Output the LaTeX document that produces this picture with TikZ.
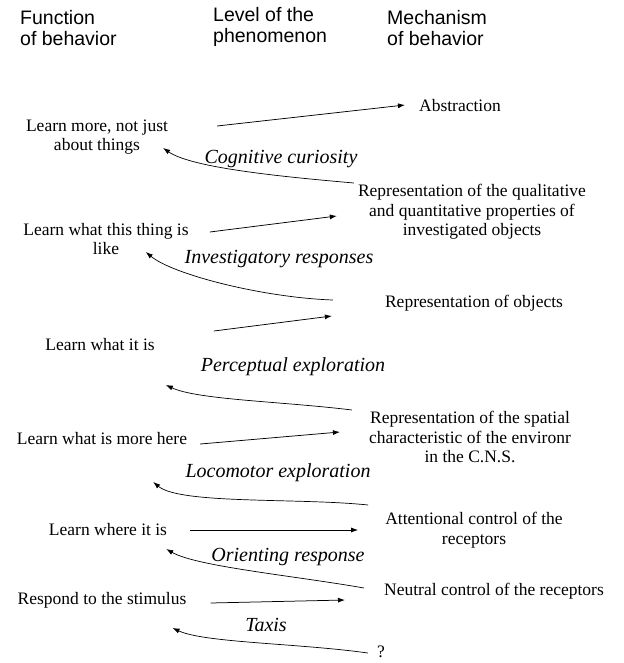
\documentclass[tikz,border=0pt]{standalone}
\usepackage{fontspec}
\setmainfont{Liberation Serif}
\newfontfamily\headfont{Liberation Sans}
\usetikzlibrary{arrows.meta}

\begin{document}
\begin{tikzpicture}[x=1pt, y=1pt,
  head/.style={anchor=north west, align=left, inner sep=0pt,
    font=\headfont\fontsize{19.5}{21}\selectfont},
  txt/.style={align=center, inner sep=0pt, font=\fontsize{17.5}{19.5}\selectfont},
  phen/.style={inner sep=0pt, font=\fontsize{20}{22}\selectfont\itshape},
  fwd/.style={line width=0.75pt, -{Latex[length=7pt, width=5pt]}},
  back/.style={line width=0.7pt, -{Latex[length=7pt, width=5pt]},
    out distance=70pt, in distance=35pt}]

  \useasboundingbox (0,0) rectangle (623,-663);

  % column heads
  \node[head] (hfun) at (20,-10) {Function\\of behavior};
  \node[head] (hlvl) at (213,-7) {Level of the\\phenomenon};
  \node[head] (hmech) at (387,-10) {Mechanism\\of behavior};

  % function of behavior
  \node[txt] (f1) at (97,-137) {Learn more, not just\\about things};
  \node[txt] (f2) at (106,-239) {Learn what this thing is\\like};
  \node[txt] (f3) at (100,-345) {Learn what it is};
  \node[txt] (f4) at (102,-439) {Learn what is more here};
  \node[txt] (f5) at (108,-530) {Learn where it is};
  \node[txt] (f6) at (102,-600) {Respond to the stimulus};

  % mechanism of behavior
  \node[txt] (abs) at (460,-106) {Abstraction};
  \node[txt] (rep2) at (472,-212) {Representation of the qualitative\\and quantitative properties of\\investigated objects};
  \node[txt] (rep3) at (474,-303) {Representation of objects};
  \node[txt] (rep4) at (470,-437) {Representation of the spatial\\characteristic of the environr\\in the C.N.S.};
  \node[txt] (rep5) at (474,-530) {Attentional control of the\\receptors};
  \node[txt] (rep6) at (494,-591) {Neutral control of the receptors};
  \node[txt] (q) at (381,-652) {?};

  % level of the phenomenon
  \node[phen] (lab1) at (281,-159) {Cognitive curiosity};
  \node[phen] (lab2) at (279,-259) {Investigatory responses};
  \node[phen] (lab3) at (293,-367) {Perceptual exploration};
  \node[phen] (lab4) at (278,-473) {Locomotor exploration};
  \node[phen] (lab5) at (288,-557) {Orienting response};
  \node[phen] (lab6) at (266,-625) {Taxis};

  % function -> mechanism
  \draw[fwd] ([shift={(49,11)}]f1.east) -- ([shift={(-14,1)}]abs.west);
  \draw[fwd] ([shift={(21,7)}]f2.east) -- ([shift={(-21,-4)}]rep2.west);
  \draw[fwd] ([shift={(59,14)}]f3.east) -- ([shift={(-53,-13)}]rep3.west);
  \draw[fwd] ([shift={(13,-5)}]f4.east) -- ([shift={(-29,5)}]rep4.west);
  \draw[fwd] ([xshift=23pt]f5.east) -- ([xshift=-27pt]rep5.west);
  \draw[fwd] ([shift={(24,-3)}]f6.east) -- ([shift={(-39,-9)}]rep6.west);

  % mechanism -> next function up
  \draw[back] ([shift={(-4,29)}]rep2.west) to[out=175, in=-35] ([shift={(-5,-11)}]f1.east);
  \draw[back] ([shift={(-52,3)}]rep3.west) to[out=178, in=-40] ([shift={(-43,-13)}]f2.east);
  \draw[back] ([shift={(-17,27)}]rep4.west) to[out=173, in=-25] ([shift={(11,-40)}]f3.east);
  \draw[back] ([shift={(-17,25)}]rep5.west) to[out=174, in=-40] ([shift={(-34,-43)}]f4.east);
  \draw[back] ([shift={(-20,3)}]rep6.west) to[out=170, in=-30] ([shift={(-1,-19)}]f5.east);
  \draw[back] ([shift={(-9,-1)}]q.west) to[out=172, in=-25] ([shift={(-14,-28)}]f6.east);
\end{tikzpicture}
\end{document}
